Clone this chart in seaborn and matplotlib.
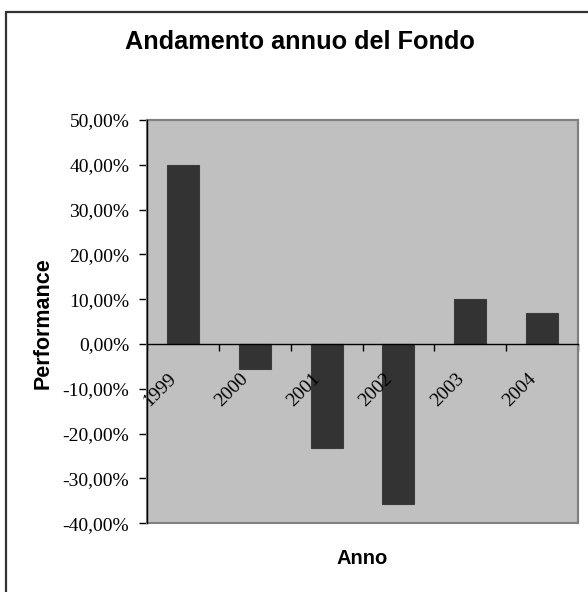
import matplotlib
matplotlib.use("Agg")
import matplotlib.pyplot as plt
import matplotlib.transforms as mtransforms
from matplotlib.lines import Line2D
from matplotlib.patches import Rectangle
from matplotlib.ticker import FixedLocator, FuncFormatter
import numpy as np
import pandas as pd
import seaborn as sns

# Dati: performance annua del fondo
anni = ["1999", "2000", "2001", "2002", "2003", "2004"]
performance = [0.40, -0.056, -0.233, -0.357, 0.10, 0.07]
tick_y = [-0.4, -0.3, -0.2, -0.1, 0.0, 0.1, 0.2, 0.3, 0.4, 0.5]

df = pd.DataFrame({"Anno": anni, "Performance": performance})

sns.set_style("white")
plt.rcParams["font.family"] = ["Liberation Sans", "DejaVu Sans"]
for k in ["text.color", "axes.labelcolor", "xtick.color", "ytick.color"]:
    plt.rcParams[k] = "black"

W, H = 588, 592
fig = plt.figure(figsize=(W / 100, H / 100), dpi=100)
ax = fig.add_axes([146.7 / W, 1 - 523.3 / H, (578.3 - 146.7) / W, (523.3 - 120) / H])
ax.set_facecolor("#C0C0C0")
ax.set_axisbelow(False)

sns.barplot(data=df, x="Anno", y="Performance", color="#333333",
            saturation=1, width=0.445, ax=ax, linewidth=0.8,
            edgecolor="#3a3a3a")

ax.set_xlim(-0.5, len(anni) - 0.5)
ax.set_ylim(tick_y[0], tick_y[-1])
ax.set_xlabel("")
ax.set_ylabel("")

# asse Y con formato italiano
ax.yaxis.set_major_locator(FixedLocator(tick_y))
ax.yaxis.set_major_formatter(
    FuncFormatter(lambda v, p: f"{v * 100:.2f}%".replace(".", ",")))
ax.tick_params(axis="y", direction="out", length=6, width=1, color="black",
               labelcolor="black", pad=6.5, labelsize=14, left=True)
for lab in ax.get_yticklabels():
    lab.set_family(["Liberation Serif", "DejaVu Serif"])

# asse X sullo zero, tacche tra le categorie, etichette al centro
ax.spines["bottom"].set_position(("data", 0))
ax.xaxis.set_major_locator(FixedLocator(np.arange(-0.5, len(anni), 1.0)))
ax.xaxis.set_major_formatter(FuncFormatter(lambda v, p: ""))
ax.xaxis.set_minor_locator(FixedLocator(np.arange(len(anni))))
ax.xaxis.set_minor_formatter(FuncFormatter(lambda v, p: anni[int(round(v))]))
ax.tick_params(axis="x", which="major", direction="out", length=5, width=1,
               color="black", bottom=True)
ax.tick_params(axis="x", which="minor", length=0, pad=19, labelsize=14,
               labelcolor="black", bottom=True)
shift = mtransforms.ScaledTranslation(-3 / 100, 0, fig.dpi_scale_trans)
for lab in ax.xaxis.get_minorticklabels():
    lab.set_rotation(45)
    lab.set_ha("right")
    lab.set_va("top")
    lab.set_family(["Liberation Serif", "DejaVu Serif"])
    lab.set_transform(lab.get_transform() + shift)

for s in ["left", "bottom"]:
    ax.spines[s].set_color("black")
    ax.spines[s].set_linewidth(1)
    ax.spines[s].set_zorder(5)
for s in ["top", "right"]:
    ax.spines[s].set_color("#808080")
    ax.spines[s].set_linewidth(1.5)
ax.add_patch(Rectangle((0, 0), 1, 1, transform=ax.transAxes, fill=False,
                       edgecolor="#808080", linewidth=1.5, zorder=4,
                       clip_on=False))

# testi
fig.text(300 / W, 1 - 42 / H, "Andamento annuo del Fondo", ha="center",
         va="center", fontsize=18.2, fontweight="bold")
fig.text(43 / W, 1 - 323 / H, "Performance", ha="center", va="center",
         rotation=90, fontsize=15.5, fontweight="bold")
fig.text(362 / W, 1 - 558 / H, "Anno", ha="center", va="center",
         fontsize=14.5, fontweight="bold")

# cornice del grafico (solo lati visibili)
fig.add_artist(Line2D([6 / W, 6 / W], [0, 1 - 12 / H], color="#333333", lw=1.6))
fig.add_artist(Line2D([6 / W, 1], [1 - 12 / H, 1 - 12 / H], color="#333333", lw=1.6))

plt.savefig("out.png", dpi=100)
